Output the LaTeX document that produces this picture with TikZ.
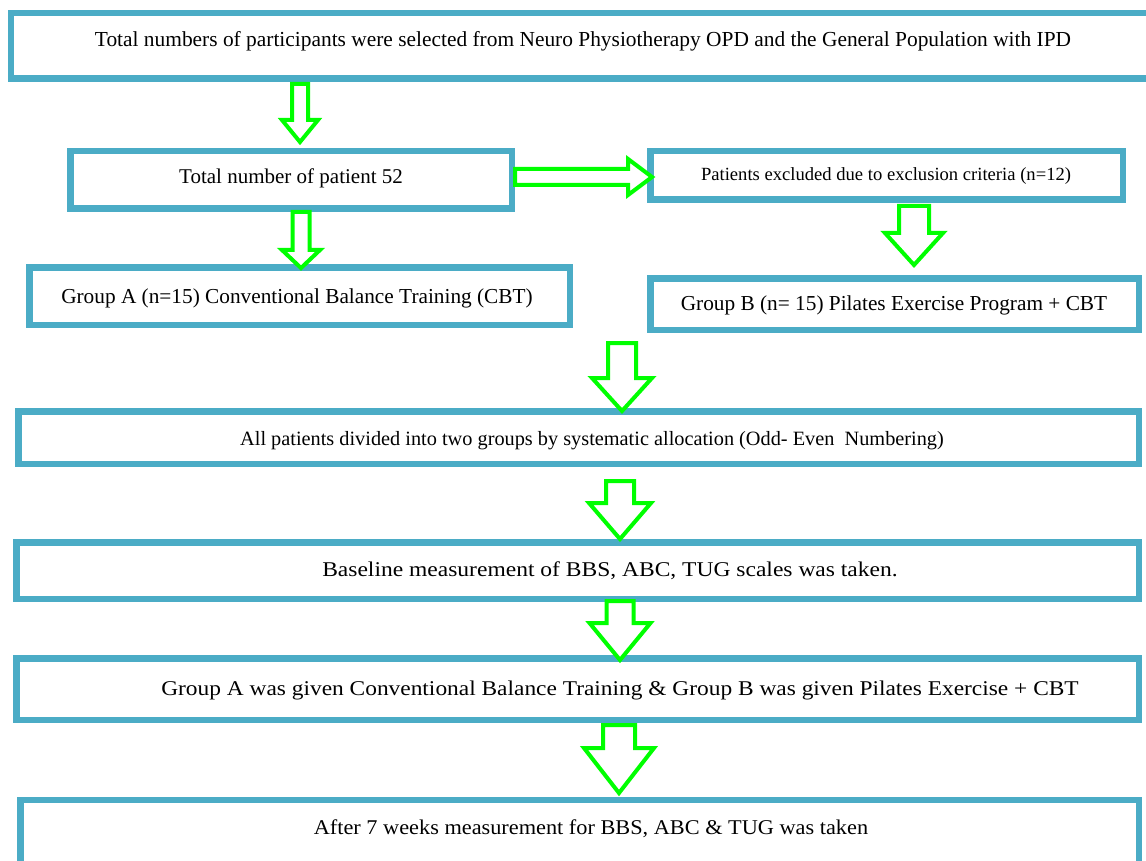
\documentclass[tikz,border=0pt]{standalone}
\usepackage{fontspec}
\setmainfont{Liberation Serif}
\definecolor{boxblue}{RGB}{75,172,198}
\definecolor{arrgreen}{RGB}{0,255,0}
\tikzset{
  flowbox/.style={draw=boxblue, line width=6.5pt, fill=white, rectangle, inner sep=0pt},
  flowtext/.style={anchor=base, inner sep=0pt, text=black},
  blockarrow/.style={draw=arrgreen, line width=4pt, fill=white, line join=miter}
}
% down block arrow: cx, top, base, tip, shaft half, head half
\newcommand\vblk[6]{%
  \draw[blockarrow] ({#1-#5},#2) -- ({#1+#5},#2) -- ({#1+#5},#3) -- ({#1+#6},#3)
    -- (#1,#4) -- ({#1-#6},#3) -- ({#1-#5},#3) -- cycle;}
\begin{document}
\begin{tikzpicture}[x=1pt,y=-1pt]
\useasboundingbox[fill=white] (0,0) rectangle (1146,861);
\clip (0,0) rectangle (1146,861);
% boxes (outer extents minus line width)
\node[flowbox, minimum width=1148.75pt, minimum height=65.5pt] (b1) at (585.6,46) {};
\node[flowbox, minimum width=441.5pt, minimum height=57.5pt] (b2) at (291,180) {};
\node[flowbox, minimum width=472.5pt, minimum height=48.5pt] (b3) at (886.5,175.5) {};
\node[flowbox, minimum width=540.5pt, minimum height=57.5pt] (bA) at (299.5,296) {};
\node[flowbox, minimum width=488.5pt, minimum height=51.5pt] (bB) at (894.5,304) {};
\node[flowbox, minimum width=1120.5pt, minimum height=52.5pt] (b4) at (578.5,437.5) {};
\node[flowbox, minimum width=1122.5pt, minimum height=56.5pt] (b5) at (577.5,570.5) {};
\node[flowbox, minimum width=1122.5pt, minimum height=61.5pt] (b6) at (577.5,689) {};
\node[flowbox, minimum width=1118.5pt, minimum height=80pt] (b7) at (579.5,840) {};
% texts
\node[flowtext, font=\fontsize{21.4}{24}\selectfont] (t1) at (583,47) {Total numbers of participants were selected from Neuro Physiotherapy OPD and the General Population with IPD};
\node[flowtext, font=\fontsize{21}{24}\selectfont] (t2) at (291,184) {Total number of patient 52};
\node[flowtext, font=\fontsize{18.6}{21}\selectfont] (t3) at (886,181) {Patients excluded due to exclusion criteria (n=12)};
\node[flowtext, font=\fontsize{21.3}{24}\selectfont] (tA) at (297,303) {Group A (n=15) Conventional Balance Training (CBT)};
\node[flowtext, font=\fontsize{21.3}{24}\selectfont] (tB) at (894,310) {Group B (n= 15) Pilates Exercise Program + CBT};
\node[flowtext, font=\fontsize{20.3}{23}\selectfont] (t4) at (592,445) {All patients divided into two groups by systematic allocation (Odd- Even\ \ Numbering)};
\node[flowtext, font=\fontsize{21}{24}\selectfont, xscale=1.12] (t5) at (610,576) {Baseline measurement of BBS, ABC, TUG scales was taken.};
\node[flowtext, font=\fontsize{21}{24}\selectfont, xscale=1.114] (t6) at (620,695) {Group A was given Conventional Balance Training \& Group B was given Pilates Exercise + CBT};
\node[flowtext, font=\fontsize{21}{24}\selectfont, xscale=1.062] (t7) at (591,834) {After 7 weeks measurement for BBS, ABC \& TUG was taken};
% block arrows
\vblk{300}{84}{120}{142}{8}{18}
\vblk{301}{212}{250}{268}{8.5}{19}
\draw[blockarrow] (b2.east |- 0,169) -- (628,169) -- (628,159) -- (652,177) -- (628,195) -- (628,185) -- (b2.east |- 0,185) -- cycle;
\vblk{914}{206}{233}{265}{15}{29}
\vblk{622}{343}{378}{411}{14}{30}
\vblk{620}{481}{503}{539}{14}{31}
\vblk{620}{601}{623}{660}{13.5}{30.5}
\vblk{619}{725}{748}{793}{16}{35}
\end{tikzpicture}
\end{document}
